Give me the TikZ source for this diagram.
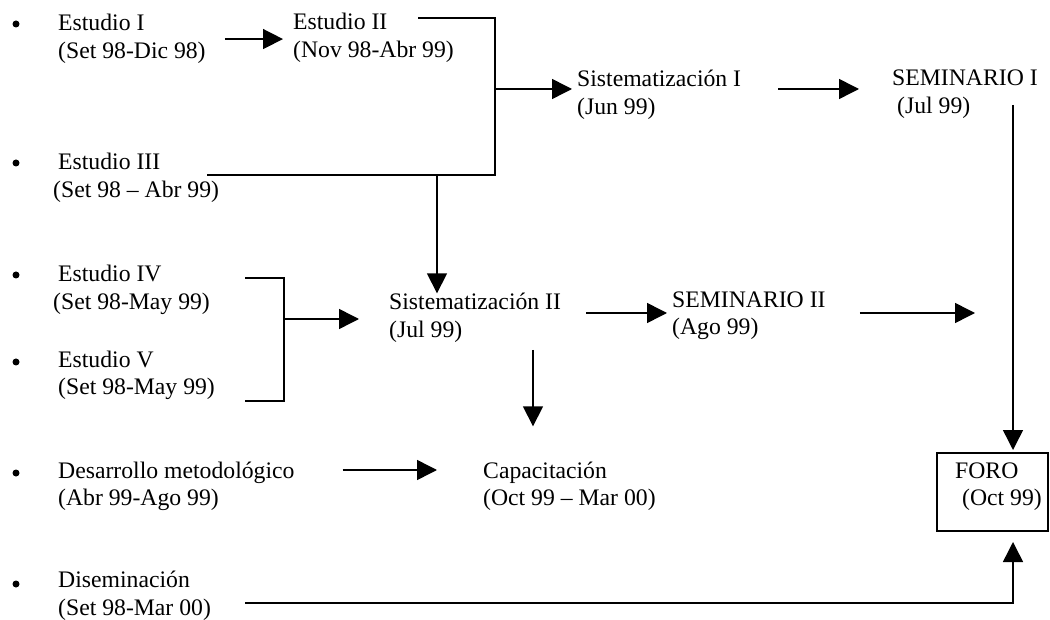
\documentclass[tikz,border=0pt]{standalone}
\usepackage{fontspec}
\setmainfont{Liberation Serif}
\usetikzlibrary{arrows.meta, positioning}
\tikzset{
    txt/.style={anchor=base west, inner sep=0pt, align=left,
        font=\fontsize{23.7pt}{27.5pt}\selectfont},
    dot/.style={circle, fill=black, inner sep=0pt, minimum size=7pt},
    arr/.style={line width=1.5pt, -{Triangle[length=20pt, width=20pt]}},
    brk/.style={line width=2pt},
    forobox/.style={draw, line width=2pt, anchor=north west, inner sep=0pt,
        outer sep=0pt, minimum width=111pt, minimum height=78pt}
}

\begin{document}
\begin{tikzpicture}[x=1pt, y=-1pt]
    \useasboundingbox (0,0) rectangle (1050,620);
    \foreach \n/\y in {1/24, 2/163, 3/275, 4/362, 5/473, 6/584}
        \node[dot] (b\n) at (16,\y) {};
    % nodes sit on the baseline of their second line
    \node[txt] (est1) at (58,58.5) {Estudio I\\(Set 98-Dic 98)};
    \node[txt] (est2) at (293,57.5) {Estudio II\\(Nov 98-Abr 99)};
    \node[txt] (est3) at (53,197.5) {\hspace*{5pt}Estudio III\\(Set 98 – Abr 99)};
    \node[txt] (est4) at (53,309.5) {\hspace*{5pt}Estudio IV\\(Set 98-May 99)};
    \node[txt] (est5) at (58,394.5) {Estudio V\\(Set 98-May 99)};
    \node[txt] (desa) at (58,505.5) {Desarrollo metodológico\\(Abr 99-Ago 99)};
    \node[txt] (dise) at (58,615) {Diseminación\\(Set 98-Mar 00)};
    \node[txt] (sis1) at (577,114.5) {Sistematización I\\(Jun 99)};
    \node[txt] (sem1) at (892,113.5) {SEMINARIO I\\\hspace*{5pt}(Jul 99)};
    \node[txt] (sis2) at (389,337.5) {Sistematización II\\(Jul 99)};
    \node[txt] (sem2) at (672,334.5) {SEMINARIO II\\(Ago 99)};
    \node[txt] (capa) at (483,505.5) {Capacitación\\(Oct 99 – Mar 00)};
    \node[forobox] (foro) at (937,453) {};
    \node[txt] (forot) at (955,505.5) {FORO\\\hspace*{7pt}(Oct 99)};
    % bracket ends and joints
    \coordinate (e2) at (418,18);
    \coordinate (e3) at (207,175);
    \coordinate (k1) at (495,175);
    \coordinate (j1) at (495,89);
    \coordinate (j2) at (437,175);
    \coordinate (h4) at (245,278);
    \coordinate (h5) at (245,401);
    \coordinate (k2) at (284,401);
    \coordinate (j3) at (284,319);
    \coordinate (d1) at (533,350);
    \coordinate (f1) at (1013,105);
    \coordinate (f2) at (975,313);
    \coordinate (g1) at (245,603);
    \draw[brk] (e2) -| (k1) -- (e3);
    \draw[brk] (h4) -| (k2) -- (h5);
    \draw[arr, shorten <=19pt, shorten >=10pt] (est1.east) -- (est1.east -| est2.west);
    \draw[arr, shorten >=5pt] (j1) -- (j1 -| sis1.west);
    \draw[arr, shorten <=37pt, shorten >=33pt] (j1 -| sis1.east) -- (j1 -| sem1.west);
    \draw[arr] (j2) -- (j2 |- sis2.north);
    \draw[arr, shorten >=30pt] (j3) -- (j3 -| sis2.west);
    \draw[arr, shorten <=25pt, shorten >=5pt] (f2 -| sis2.east) -- (f2 -| sem2.west);
    \draw[arr, shorten <=34pt] (f2 -| sem2.east) -- (f2);
    \draw[arr, shorten >=35pt] (d1) -- (d1 |- capa.north);
    \draw[arr, shorten <=48pt, shorten >=46pt] ([yshift=35.5pt]desa.base east) -- ([yshift=35.5pt]capa.base west);
    \draw[arr, shorten >=3pt] (f1) -- (f1 |- foro.north);
    \draw[arr, shorten >=11pt] (g1) -| (f1 |- foro.south);
\end{tikzpicture}
\end{document}
